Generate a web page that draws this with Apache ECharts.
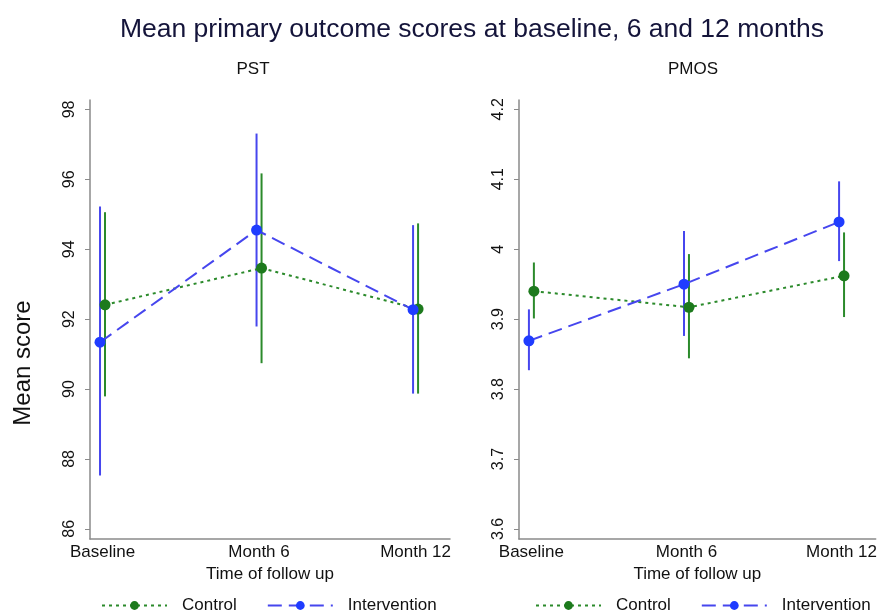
<!DOCTYPE html>
<html>
<head>
<meta charset="utf-8">
<script src="https://cdn.jsdelivr.net/npm/echarts@6/dist/echarts.min.js"></script>
<style>
html,body{margin:0;padding:0;background:#fff;}
#chart{width:880px;height:615px;}
</style>
</head>
<body>
<div id="chart"></div>
<script>
// Categories and tick labels
const categories = ['Baseline', 'Month 6', 'Month 12'];
const pstTicks = [86, 88, 90, 92, 94, 96, 98];
const pmosTicks = [3.6, 3.7, 3.8, 3.9, 4.0, 4.1, 4.2];

// PST panel
const pstControl   = [92.41, 93.46, 92.29];
const pstControlLo = [89.79, 90.74, 89.87];
const pstControlHi = [95.06, 96.17, 94.74];
const pstInterv    = [91.34, 94.55, 92.27];
const pstIntervLo  = [87.53, 91.79, 89.87];
const pstIntervHi  = [95.22, 97.31, 94.69];

// PMOS panel
const pmosControl   = [3.940, 3.917, 3.962];
const pmosControlLo = [3.901, 3.844, 3.903];
const pmosControlHi = [3.981, 3.993, 4.024];
const pmosInterv    = [3.869, 3.950, 4.039];
const pmosIntervLo  = [3.827, 3.876, 3.983];
const pmosIntervHi  = [3.914, 4.026, 4.097];

const GREEN = '#2b8a2b';
const GREEN_DOT = '#1d7a1d';
const BLUE = '#4646ee';
const BLUE_DOT = '#1f3cff';
const FONT = 'Liberation Sans, Arial, sans-serif';
const OFF = 0.016; // small dodge between groups

function pts(vals, dx) { return vals.map((v, i) => [i + dx, v]); }
function bars(lo, hi, dx) { return lo.map((l, i) => [i + dx, l, hi[i]]); }

function ciSeries(data, color, gi) {
  return {
    type: 'custom', xAxisIndex: gi, yAxisIndex: gi, silent: true,
    data: data, z: 1,
    renderItem: function (params, api) {
      const a = api.coord([api.value(0), api.value(1)]);
      const b = api.coord([api.value(0), api.value(2)]);
      return { type: 'line', shape: { x1: a[0], y1: a[1], x2: b[0], y2: b[1] },
               style: { stroke: color, lineWidth: 2 } };
    },
    encode: { x: 0, y: [1, 2] }
  };
}
function lineSeries(name, data, color, dotColor, dash, gi) {
  return {
    name: name, type: 'line', xAxisIndex: gi, yAxisIndex: gi, data: data, z: 3,
    symbol: 'circle', symbolSize: 11,
    itemStyle: { color: dotColor },
    lineStyle: { color: color, width: 2, type: dash },
    animation: false
  };
}
function xAxis(gi) {
  return {
    type: 'value', gridIndex: gi, min: -0.08, max: 2.22,
    name: 'Time of follow up', nameLocation: 'middle', nameGap: 27,
    nameTextStyle: { fontFamily: FONT, fontSize: 17, color: '#111' },
    axisLine: { onZero: false, lineStyle: { color: '#8a8a8a', width: 1.5 } },
    axisTick: { show: false },
    splitLine: { show: false },
    axisLabel: {
      customValues: [0, 1, 2], margin: 5,
      fontFamily: FONT, fontSize: 17, color: '#111',
      formatter: v => categories[Math.round(v)]
    }
  };
}
function yAxis(gi, min, max, ticks, fmt) {
  return {
    type: 'value', gridIndex: gi, min: min, max: max,
    axisLine: { show: true, onZero: false, lineStyle: { color: '#8a8a8a', width: 1.5 } },
    axisTick: { show: true, customValues: ticks, length: 5, lineStyle: { color: '#8a8a8a' } },
    splitLine: { show: false },
    axisLabel: {
      customValues: ticks, rotate: 90, margin: 12,
      fontFamily: FONT, fontSize: 16, color: '#111',
      formatter: fmt
    }
  };
}
const legendCommon = {
  data: ['Control', 'Intervention'], top: 592, itemWidth: 65, itemHeight: 11, itemGap: 30,
  textStyle: { fontFamily: FONT, fontSize: 17, color: '#111', padding: [0, 0, 0, 10] }, selectedMode: false
};

const option = {
  backgroundColor: '#fff',
  animation: false,
  title: [
    { text: 'Mean primary outcome scores at baseline, 6 and 12 months', left: 467, top: 11, textAlign: 'center',
      textStyle: { fontFamily: FONT, fontSize: 26.5, fontWeight: 'normal', color: '#14143a' } },
    { text: 'PST', left: 248, top: 56, textAlign: 'center',
      textStyle: { fontFamily: FONT, fontSize: 17, fontWeight: 'normal', color: '#111' } },
    { text: 'PMOS', left: 688, top: 56, textAlign: 'center',
      textStyle: { fontFamily: FONT, fontSize: 17, fontWeight: 'normal', color: '#111' } }
  ],
  graphic: [
    { type: 'text', x: 23, y: 363, rotation: Math.PI / 2,
      style: { text: 'Mean score', fontFamily: FONT, fontSize: 24, fill: '#111',
               align: 'center', verticalAlign: 'middle' } }
  ],
  grid: [
    { left: 90, right: 430, top: 100, bottom: 76 },
    { left: 519, right: 3, top: 100, bottom: 76 }
  ],
  xAxis: [xAxis(0), xAxis(1)],
  yAxis: [
    yAxis(0, 85.71, 98.27, pstTicks, v => String(v)),
    yAxis(1, 3.5857, 4.2133, pmosTicks, v => (Math.round(v * 10) / 10).toString())
  ],
  legend: [
    Object.assign({ left: 96 }, legendCommon),
    Object.assign({ left: 530 }, legendCommon)
  ],
  series: [
    ciSeries(bars(pstIntervLo, pstIntervHi, -OFF), BLUE, 0),
    ciSeries(bars(pstControlLo, pstControlHi, OFF), GREEN, 0),
    lineSeries('Control', pts(pstControl, OFF), GREEN, GREEN_DOT, [3, 4], 0),
    lineSeries('Intervention', pts(pstInterv, -OFF), BLUE, BLUE_DOT, [14, 7], 0),
    ciSeries(bars(pmosIntervLo, pmosIntervHi, -OFF), BLUE, 1),
    ciSeries(bars(pmosControlLo, pmosControlHi, OFF), GREEN, 1),
    lineSeries('Control', pts(pmosControl, OFF), GREEN, GREEN_DOT, [3, 4], 1),
    lineSeries('Intervention', pts(pmosInterv, -OFF), BLUE, BLUE_DOT, [14, 7], 1)
  ]
};

const chart = echarts.init(document.getElementById('chart'), null, { renderer: 'canvas' });
chart.setOption(option);
</script>
</body>
</html>
